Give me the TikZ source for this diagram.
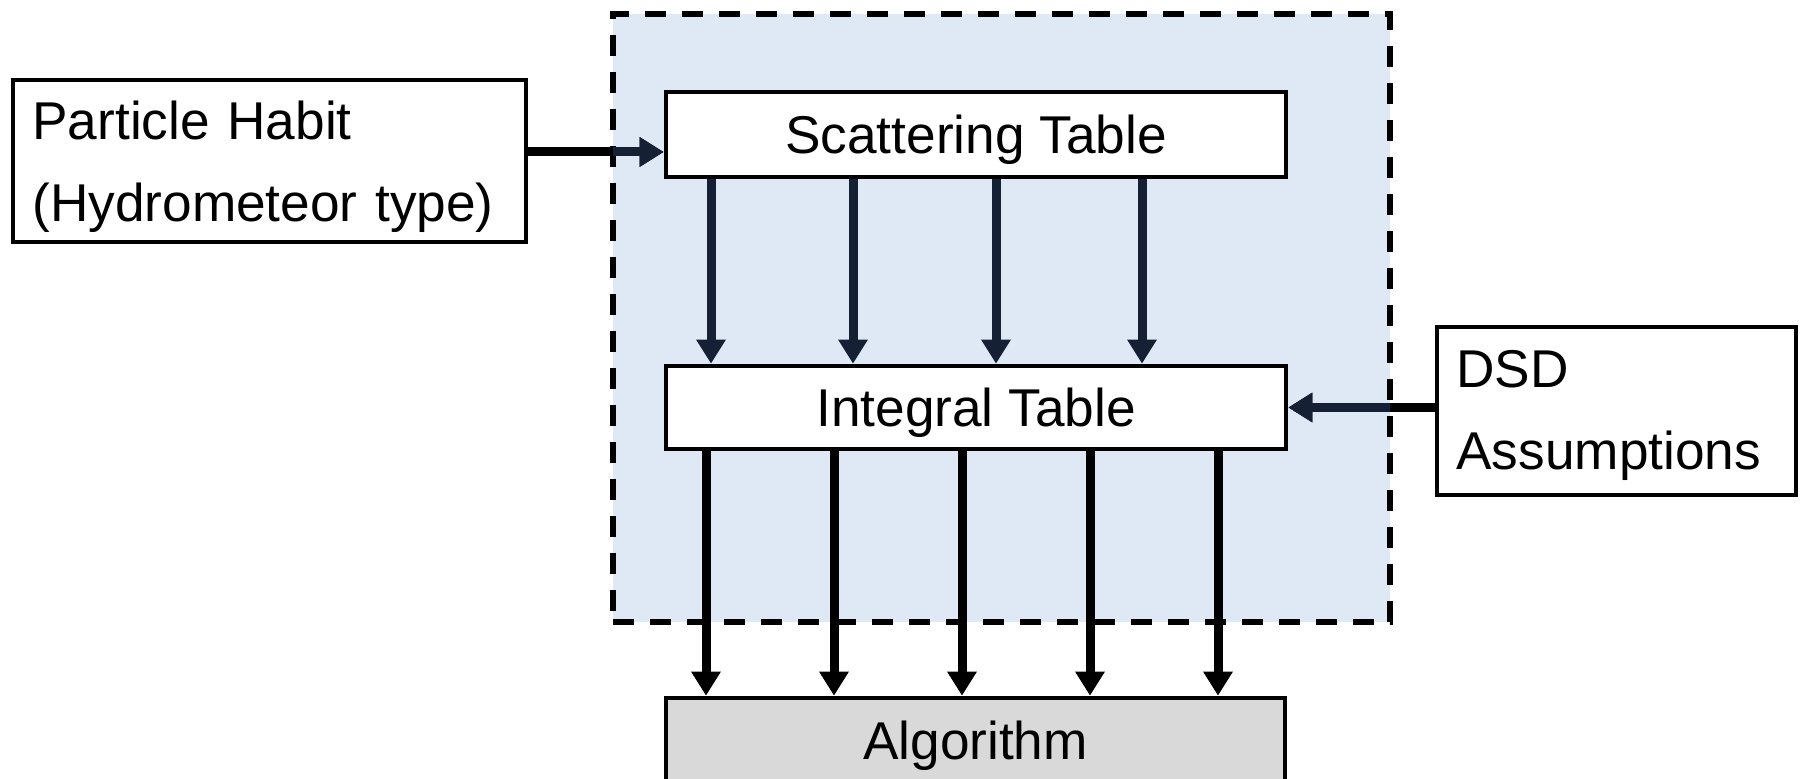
\documentclass[tikz,border=0pt]{standalone}
\usepackage{fontspec}
\setmainfont{Liberation Sans}
\usetikzlibrary{arrows.meta}
\definecolor{bgblue}{RGB}{223,232,245}
\definecolor{navyarrow}{RGB}{22,32,52}
\definecolor{algray}{RGB}{217,217,217}
\begin{document}
\begin{tikzpicture}[x=0.5pt,y=-0.5pt,
  box/.style={draw=black, line width=2.3pt, fill=white, rectangle, inner sep=0pt,
    font=\fontsize{26.6}{41}\selectfont},
  onebox/.style={box, text height=19pt, text depth=0pt},
  group/.style={draw=black, line width=2.7pt, dash pattern=on 10.5pt off 8pt,
    fill=bgblue, rectangle, inner sep=0pt},
  arr/.style={line width=4.5pt, -{Triangle[width=14pt,length=12pt]}},
  inarr/.style={arr, draw=navyarrow}]
\useasboundingbox (0,0) rectangle (1800,779);

% group (dashed, shaded) region
\node[group, minimum width=388.5pt, minimum height=304pt] (grp) at (1001.5,318) {};

% boxes
\node[onebox, minimum width=310pt, minimum height=42.5pt] (scat) at (976,134.5) {Scattering Table};
\node[onebox, minimum width=310pt, minimum height=41.5pt] (int) at (976,407.5) {Integral Table};
\node[onebox, fill=algray, minimum width=309.5pt, minimum height=42.5pt] (alg) at (975.5,740.5) {Algorithm};
\node[box, minimum width=256.5pt, minimum height=81pt, text width=237pt, align=left] (ph) at (269.5,161)
  {\rule{0pt}{25.4pt}Particle Habit\\(Hydrometeor type)};
\node[box, minimum width=179.5pt, minimum height=84pt, text width=160pt, align=left] (dsd) at (1616.5,411)
  {\rule{0pt}{22.6pt}DSD\\Assumptions};

% helper coordinates
\coordinate (yph) at (0,152);
\foreach \x [count=\i] in {711,853,996,1142} { \coordinate (s\i) at (\x,0); }
\foreach \x [count=\i] in {706,834,962,1090,1218} { \coordinate (t\i) at (\x,0); }

% scattering -> integral
\foreach \i in {1,...,4} { \draw[inarr] (s\i |- scat.south) -- (s\i |- int.north); }
% integral -> algorithm
\foreach \i in {1,...,5} { \draw[arr] (t\i |- int.south) -- (t\i |- alg.north); }

% side inputs
\draw[arr] (ph.east |- yph) -- (scat.west |- yph);
\draw[arr] (dsd.west |- int.east) -- (int.east);
\begin{scope}
  \clip ([xshift=1.4pt,yshift=-1.4pt]grp.north west) rectangle ([xshift=-1.4pt,yshift=1.4pt]grp.south east);
  \draw[inarr] (ph.east |- yph) -- (scat.west |- yph);
  \draw[inarr] (dsd.west |- int.east) -- (int.east);
\end{scope}
\end{tikzpicture}
\end{document}
